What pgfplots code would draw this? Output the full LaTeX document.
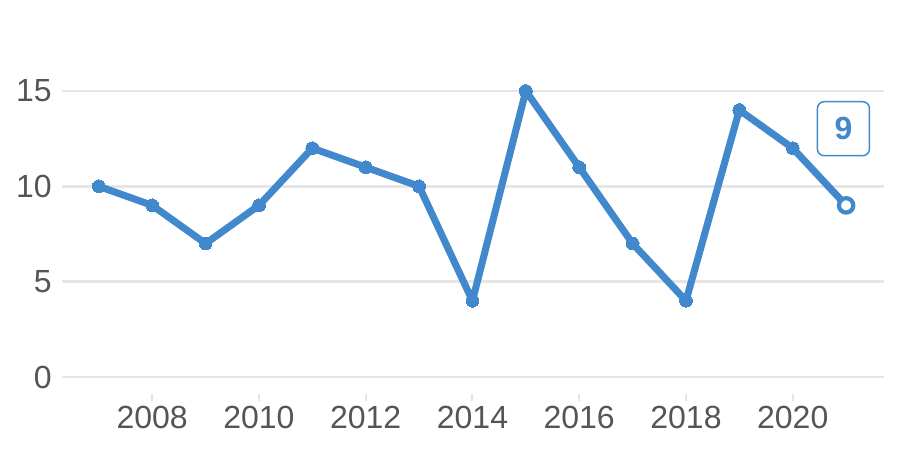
\documentclass[border=0pt]{standalone}
\usepackage{pgfplots}
\pgfplotsset{compat=1.18}
\usepackage{fontspec}
\setmainfont{Liberation Sans}
\definecolor{lineblue}{HTML}{4189CC}
\definecolor{gridgray}{HTML}{E6E6E6}
\definecolor{labgray}{HTML}{555555}
\begin{document}
\begin{tikzpicture}
\path (0pt,0pt) rectangle (675pt,337.5pt);
\begin{axis}[
  at={(46.5pt,42pt)},
  anchor=south west,
  scale only axis,
  width=616.5pt, height=261.6pt,
  xmin=2006.31, xmax=2021.71,
  ymin=-0.89, ymax=17.4,
  axis line style={draw=none},
  xtick={2008,2010,...,2020},
  ytick={0,5,10,15},
  ymajorgrids,
  grid style={gridgray, line width=1.9pt},
  xtick style={gridgray, line width=1.5pt},
  ytick style={draw=none},
  tick align=outside,
  xtick pos=bottom,
  major tick length=5.25pt,
  x tick label style={/pgf/number format/1000 sep={}},
  ticklabel style={font=\fontsize{24}{26}\selectfont, text=labgray},
  yticklabel style={xshift=1pt},
  /pgf/number format/assume math mode=true,
  clip=false,
]
\addplot[lineblue, line width=5.3pt, line join=round, mark=*, mark size=4.8pt, mark options={fill=lineblue, draw=lineblue, line width=0pt}]
coordinates {(2007,10)(2008,9)(2009,7)(2010,9)(2011,12)(2012,11)(2013,10)(2014,4)(2015,15)(2016,11)(2017,7)(2018,4)(2019,14)(2020,12)(2021,9)};
\addplot[only marks, mark=*, mark size=5.4pt, mark options={fill=white, draw=lineblue, line width=3.2pt},
  nodes near coords={\textbf{9}},
  every node near coord/.append style={anchor=center, yshift=57.5pt, xshift=-2pt, draw=lineblue, line width=1.1pt, rounded corners=5pt, fill=white, minimum width=39pt, minimum height=40.5pt, inner sep=0pt, text=lineblue, font=\fontsize{24}{26}\selectfont}]
coordinates {(2021,9)};
\end{axis}
\end{tikzpicture}
\end{document}
